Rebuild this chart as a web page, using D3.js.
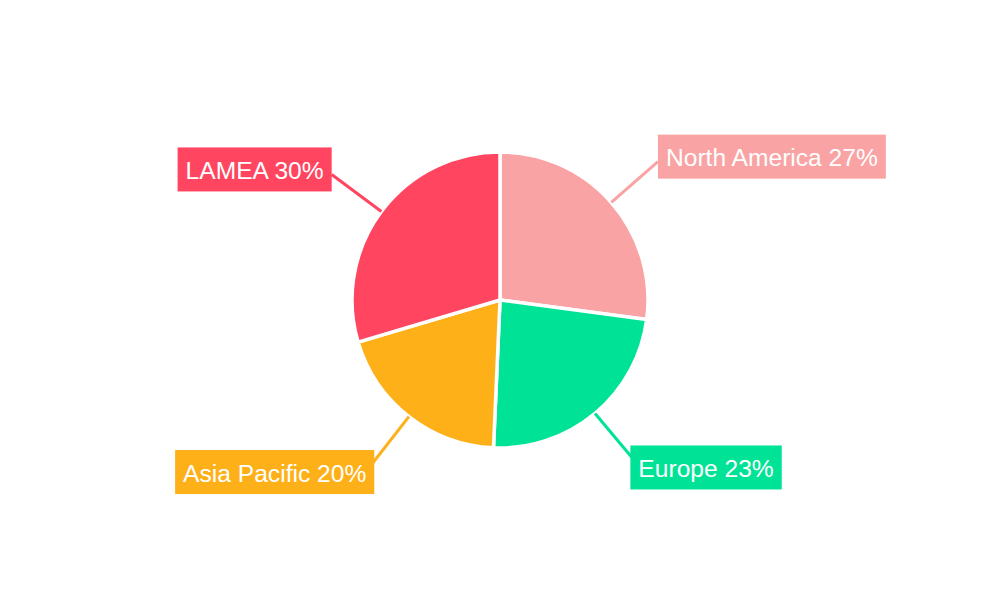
<!DOCTYPE html>
<html><head><meta charset="utf-8">
<script src="https://cdn.jsdelivr.net/npm/d3@7"></script>
<style>body{margin:0;background:#fff;} svg{display:block;}</style>
</head><body>
<script>
const categories = ["North America", "Europe", "Asia Pacific", "LAMEA"];
const values = [27.1, 23.6, 19.7, 29.6];
const labels = ["27%", "23%", "20%", "30%"];
const colors = ["#F9A3A4", "#00E396", "#FEB019", "#FF4560"];

const W = 1000, H = 600, cx = 500, cy = 300, R = 148, RL = 210;
const svg = d3.select("body").append("svg").attr("width", W).attr("height", H);
const g = svg.append("g").attr("transform", `translate(${cx},${cy})`);

const data = categories.map((c, i) => ({c, v: values[i], l: labels[i], col: colors[i]}));
const pie = d3.pie().value(d => d.v).sort(null);
const arcs = pie(data);
const arc = d3.arc().innerRadius(0).outerRadius(R);

g.selectAll("path.slice").data(arcs).enter().append("path")
  .attr("class", "slice").attr("d", arc)
  .attr("fill", d => d.data.col).attr("stroke", "#fff").attr("stroke-width", 3.5);

arcs.forEach(a => {
  const m = (a.startAngle + a.endAngle) / 2;
  const sx = Math.sin(m), sy = -Math.cos(m);
  const x0 = sx * R, y0 = sy * R, x1 = sx * RL, y1 = sy * RL;
  g.append("line").attr("x1", x0).attr("y1", y0).attr("x2", x1).attr("y2", y1)
    .attr("stroke", a.data.col).attr("stroke-width", 3);
  const txt = g.append("text").text(a.data.c + " " + a.data.l)
    .attr("font-family", "'Liberation Sans', Arial, sans-serif").attr("font-size", 24.6)
    .attr("fill", "#fff").attr("dominant-baseline", "central");
  const tw = txt.node().getComputedTextLength();
  const bw = tw + 16, bh = 44;
  const right = sx > 0, bottom = sy > 0;
  let bx = right ? x1 - (bottom ? 4.5 : 0) : x1 - bw + (bottom ? 3.5 : 0);
  let by = (bottom ? y1 + 6.5 : y1 - 5) - bh / 2;
  g.insert("rect", "text:last-of-type").attr("x", bx).attr("y", by).attr("width", bw).attr("height", bh).attr("fill", a.data.col);
  txt.attr("x", bx + 8).attr("y", by + bh / 2 + 1).raise();
});
</script>
</body></html>
